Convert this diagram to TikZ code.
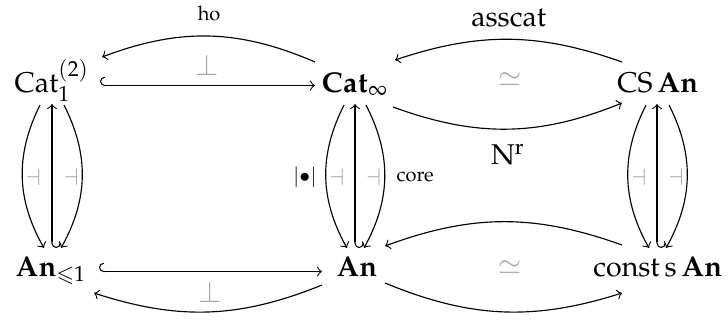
\documentclass[tikz,border=0pt]{standalone}
\usepackage{amsmath,amssymb}
\usepackage{mathpazo}
\usetikzlibrary{calc,arrows}
\begin{document}
\begin{tikzpicture}[x=0.35pt,y=-0.35pt,
  obj/.style={anchor=base,inner sep=0pt,outer sep=0pt},
  arr/.style={->,line width=0.4pt},
  hkh/.style={right hook->,line width=0.38pt},
  hkv/.style={left hook->,line width=0.38pt},
  adjl/.style={text=black!35,font=\footnotesize,inner sep=1pt},
  eqv/.style={text=black!35},
  lab/.style={font=\scriptsize,inner sep=2pt}]
\useasboundingbox (0,0) rectangle (728,334);
% objects
\node[obj] (C1) at (52,92) {$\mathrm{Cat}_1^{(2)}$};
\node[obj] (Ci) at (355,92) {$\mathbf{Cat}_\infty$};
\node[obj] (CS) at (658,92) {$\mathrm{CS}\,\mathbf{An}$};
\node[obj] (A1) at (51,276) {$\mathbf{An}_{\leqslant 1}$};
\node[obj] (A) at (357,276) {$\mathbf{An}$};
\node[obj] (cs) at (658,276) {$\mathrm{const}\,\mathrm{s}\,\mathbf{An}$};
% top left
\draw[hkh] ($(C1.base)+(48,-6.5)$) -- node[above,eqv] {$\perp$} ($(Ci.base)+(-40,-6.5)$);
\draw[arr] ($(Ci.base)+(-40,-30)$) to[bend right=22] node[above,lab,inner sep=5pt] {$\mathrm{ho}$} ($(C1.base)+(50,-35)$);
% top right
\draw[arr] ($(CS.base)+(-36,-30)$) to[bend right=19] node[above,inner sep=4pt] {$\mathrm{asscat}$} ($(Ci.base)+(40,-32)$);
\draw[arr] ($(Ci.base)+(38,15)$) to[bend right=21] node[below,inner sep=5pt] {$\mathrm{N}^{\mathrm{r}}$} ($(CS.base)+(-36,11)$);
\node[eqv] (e1) at (510,80) {$\simeq$};
% bottom left
\draw[hkh] ($(A1.base)+(48,-4.5)$) -- node[below,eqv] {$\perp$} ($(A.base)+(-35,-4.5)$);
\draw[arr] ($(A.base)+(-35,9)$) to[bend left=20] ($(A1.base)+(43,17)$);
% bottom right
\draw[arr] ($(cs.base)+(-36,-31)$) to[bend right=20] ($(A.base)+(28,-30)$);
\draw[arr] ($(A.base)+(28,7)$) to[bend right=20] ($(cs.base)+(-36,17)$);
\node[eqv] (e2) at (510,268) {$\simeq$};
% left column
\draw[hkv] ($(A1.base)+(1,-28)$) -- ($(C1.base)+(0,12)$);
\draw[arr] ($(C1.base)+(-12,13)$) to[bend right=28] node[right,adjl] {$\dashv$} ($(A1.base)+(-7,-28)$);
\draw[arr] ($(C1.base)+(12,13)$) to[bend left=28] node[left,adjl] {$\dashv$} ($(A1.base)+(10,-28)$);
% middle column
\draw[hkv] ($(A.base)+(-2,-28)$) -- ($(Ci.base)+(0,12)$);
\draw[arr] ($(Ci.base)+(-11,13)$) to[bend right=28] node[right,adjl] {$\dashv$} node[left,lab,inner sep=3pt] {$|{\bullet}|$} ($(A.base)+(-10,-28)$);
\draw[arr] ($(Ci.base)+(11,13)$) to[bend left=28] node[left,adjl] {$\dashv$} node[right,lab,inner sep=4pt] {$\mathrm{core}$} ($(A.base)+(7,-28)$);
% right column
\draw[hkv] ($(cs.base)+(-1,-28)$) -- ($(CS.base)+(-1,12)$);
\draw[arr] ($(CS.base)+(-12,13)$) to[bend right=28] node[right,adjl] {$\dashv$} ($(cs.base)+(-9,-28)$);
\draw[arr] ($(CS.base)+(11,13)$) to[bend left=28] node[left,adjl] {$\dashv$} ($(cs.base)+(8,-28)$);
\end{tikzpicture}
\end{document}
